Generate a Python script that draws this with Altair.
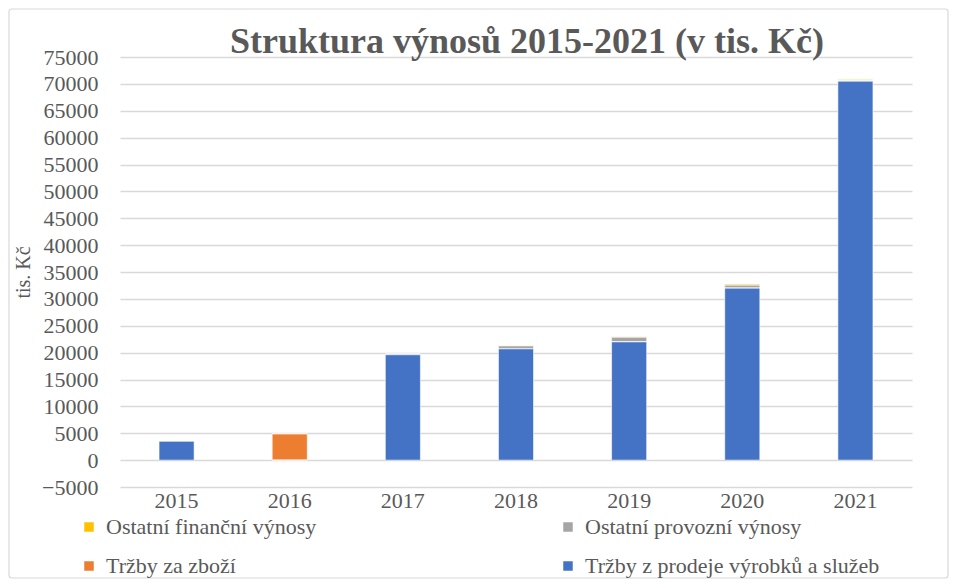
import altair as alt
import pandas as pd

years = ["2015", "2016", "2017", "2018", "2019", "2020", "2021"]
series = [
    "Ostatní finanční výnosy",
    "Ostatní provozní výnosy",
    "Tržby za zboží",
    "Tržby z prodeje výrobků a služeb",
]
colors = ["#FFC000", "#A5A5A5", "#ED7D31", "#4472C4"]
stack_order = [3, 2, 1, 0]

financni = [0, 50, 0, 80, 100, 200, 200]
provozni = [30, 0, 150, 550, 850, 550, 100]
zbozi = [0, 4850, 0, 0, 0, 0, 0]
vyrobky = [3500, 0, 19600, 20700, 22000, 32000, 70500]

values = [financni, provozni, zbozi, vyrobky]
rows = []
for s, vals, o in zip(series, values, stack_order):
    for y, v in zip(years, vals):
        rows.append({"rok": y, "serie": s, "hodnota": v, "poradi": o})
df = pd.DataFrame(rows)

FONT = "Liberation Serif"
GREY = "#595959"

bars = alt.Chart(df).mark_bar(stroke="white", strokeWidth=0.6).encode(
    x=alt.X("rok:N", sort=years,
            scale=alt.Scale(paddingInner=0.69, paddingOuter=0.345),
            axis=alt.Axis(title=None, labelAngle=0, domain=False, ticks=False,
                          labelPadding=3, labelFontSize=22, labelFont=FONT,
                          labelColor=GREY, grid=False)),
    y=alt.Y("hodnota:Q", stack="zero",
            scale=alt.Scale(domain=[-5000, 75000], nice=False, zero=False),
            axis=alt.Axis(title="tis. Kč", values=list(range(-5000, 75001, 5000)),
                          format="d", domain=False, ticks=False, labelPadding=22,
                          labelFontSize=22, labelFont=FONT, labelColor=GREY,
                          gridColor="#d9d9d9", gridWidth=1.3,
                          titleFont=FONT, titleFontSize=20, titleFontWeight="normal",
                          titleColor=GREY, titleX=-97, titleY=215, titleAngle=270,
                          titleAlign="center", titleBaseline="middle")),
    color=alt.Color("serie:N",
                    scale=alt.Scale(domain=series, range=colors),
                    legend=alt.Legend(title=None, orient="none", legendX=-42, legendY=459,
                                      columns=2, columnPadding=240, rowPadding=17,
                                      symbolType="square", symbolSize=90,
                                      symbolStrokeWidth=0, labelFont=FONT,
                                      labelFontSize=22, labelColor=GREY, labelLimit=500,
                                      labelOffset=6, direction="horizontal")),
    order=alt.Order("poradi:Q", sort="ascending"),
)

frame = alt.Chart(pd.DataFrame({"a": [0]})).mark_rect(
    fill=None, stroke="#d9d9d9", strokeWidth=1.2, cornerRadius=3
).encode(
    x=alt.value(-111), x2=alt.value(828),
    y=alt.value(-48), y2=alt.value(521),
)

chart = alt.layer(frame, bars).properties(
    width=792, height=430,
    autosize=alt.AutoSizeParams(type="none"),
    padding={"left": 112, "top": 49, "right": 37, "bottom": 96},
    title=alt.TitleParams("Struktura výnosů 2015-2021 (v tis. Kč)", font=FONT,
                          fontSize=36, fontWeight="bold", color=GREY,
                          anchor="middle", offset=0, dx=11, dy=81,
                          baseline="alphabetic"),
).configure_view(stroke=None)

chart.save("out.html", embed_options={"renderer": "svg", "actions": False})
